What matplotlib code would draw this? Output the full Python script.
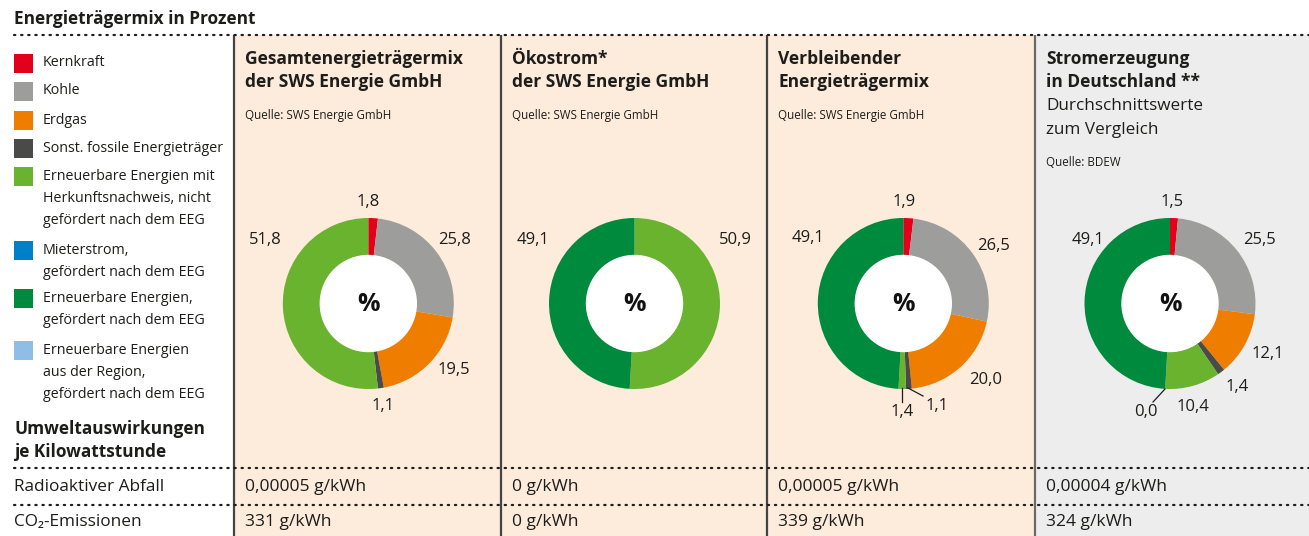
import matplotlib
matplotlib.use("Agg")
import matplotlib.pyplot as plt
from matplotlib.patches import Rectangle

# ---------------- data ----------------
categories = [
    "Kernkraft",
    "Kohle",
    "Erdgas",
    "Sonst. fossile Energieträger",
    "Erneuerbare Energien mit\nHerkunftsnachweis, nicht\ngefördert nach dem EEG",
    "Mieterstrom,\ngefördert nach dem EEG",
    "Erneuerbare Energien,\ngefördert nach dem EEG",
    "Erneuerbare Energien\naus der Region,\ngefördert nach dem EEG",
]
colors = ["#E2001A", "#9D9D9C", "#EF7D00", "#4A4A49",
          "#69B32E", "#0080C9", "#008A3E", "#8EBEE6"]

panel_titles = [
    "Gesamtenergieträgermix\nder SWS Energie GmbH",
    "Ökostrom*\nder SWS Energie GmbH",
    "Verbleibender\nEnergieträgermix",
    "Stromerzeugung\nin Deutschland **",
]
panel_subtitles = ["", "", "", "Durchschnittswerte\nzum Vergleich"]
panel_sources = ["Quelle: SWS Energie GmbH", "Quelle: SWS Energie GmbH",
                 "Quelle: SWS Energie GmbH", "Quelle: BDEW"]

# shares per category (None = not part of this mix)
gesamt      = [1.8, 25.8, 19.5, 1.1, 51.8, None, None, None]
oekostrom   = [None, None, None, None, 50.9, None, 49.1, None]
verbleibend = [1.9, 26.5, 20.0, 1.1, 1.4, None, 49.1, None]
deutschland = [1.5, 25.5, 12.1, 1.4, 10.4, 0.0, 49.1, None]
series = [gesamt, oekostrom, verbleibend, deutschland]

radioaktiv = ["0,00005 g/kWh", "0 g/kWh", "0,00005 g/kWh", "0,00004 g/kWh"]
co2 = ["331 g/kWh", "0 g/kWh", "339 g/kWh", "324 g/kWh"]

# ---------------- layout ----------------
W, H = 1309, 536
FONT = ["Open Sans", "DejaVu Sans"]
TXT = "#1d1d1b"
plt.rcParams["font.family"] = FONT

fig = plt.figure(figsize=(W / 100, H / 100), dpi=100)
ax = fig.add_axes([0, 0, 1, 1])
ax.set_xlim(0, W)
ax.set_ylim(0, H)
ax.set_aspect("equal")
ax.axis("off")


def Y(py):
    return H - py


panel_x = [234, 501, 767, 1035, W]
panel_bg = ["#FDEBDC", "#FDEBDC", "#FDEBDC", "#EDEDED"]
centers_x = [368.3, 634.5, 903.3, 1170]
center_y = 303.5
R_OUT, R_IN = 85.5, 48

for i in range(4):
    ax.add_patch(Rectangle((panel_x[i], 0), panel_x[i + 1] - panel_x[i], Y(35),
                           facecolor=panel_bg[i], edgecolor="none", zorder=0))
for i in range(4):
    ax.plot([panel_x[i], panel_x[i]], [0, Y(35)], color="#444444" if i < 3 else "#6a6a6a",
            lw=1.6, zorder=3, solid_capstyle="butt")

# dotted rules
for yy in [35, 468, 505]:
    ax.plot([14, W], [Y(yy), Y(yy)], color=TXT, lw=1.6, ls=(0, (0.6, 2.6)),
            dash_capstyle="round", zorder=4)

# header
ax.text(14, Y(19), "Energieträgermix in Prozent", fontsize=12.4, fontweight="bold",
        color=TXT, va="center", ha="left")

# legend
legend_y = [63, 91, 120, 148, 176, 250, 298, 350]
for c, col, ly in zip(categories, colors, legend_y):
    ax.add_patch(Rectangle((14, Y(ly) - 9.5), 19, 19, facecolor=col, edgecolor="none"))
    for k, ln in enumerate(c.split("\n")):
        ax.text(43, Y(ly + 22 * k), ln, fontsize=10.3, color=TXT, va="center", ha="left")

# bottom-left labels
ax.text(14, Y(429), "Umweltauswirkungen", fontsize=12.4, fontweight="bold", color=TXT,
        va="center", ha="left")
ax.text(14, Y(452), "je Kilowattstunde", fontsize=12.4, fontweight="bold", color=TXT,
        va="center", ha="left")
ax.text(14, Y(487), "Radioaktiver Abfall", fontsize=12.4, color=TXT, va="center", ha="left")
ax.text(14, Y(522), "CO₂-Emissionen", fontsize=12.4, color=TXT, va="center", ha="left")

# panel headers and bottom values
for i in range(4):
    x0 = panel_x[i] + 11
    t1, t2 = panel_titles[i].split("\n")
    ax.text(x0, Y(59), t1, fontsize=12.5, fontweight="bold", color=TXT, va="center", ha="left")
    ax.text(x0, Y(82), t2, fontsize=12.5, fontweight="bold", color=TXT, va="center", ha="left")
    if panel_subtitles[i]:
        s1, s2 = panel_subtitles[i].split("\n")
        ax.text(x0, Y(106), s1, fontsize=12.3, color=TXT, va="center", ha="left")
        ax.text(x0, Y(130), s2, fontsize=12.3, color=TXT, va="center", ha="left")
        ax.text(x0, Y(162), panel_sources[i], fontsize=8.4, color=TXT, va="center", ha="left")
    else:
        ax.text(x0, Y(115), panel_sources[i], fontsize=8.4, color=TXT, va="center", ha="left")
    ax.text(x0, Y(487), radioaktiv[i], fontsize=12.6, color=TXT, va="center", ha="left")
    ax.text(x0, Y(522), co2[i], fontsize=12.6, color=TXT, va="center", ha="left")

# donuts
for i, vals in enumerate(series):
    v = [x if x is not None else 0 for x in vals]
    ax.pie(v, colors=colors, startangle=90, counterclock=False,
           center=(centers_x[i], Y(center_y)), radius=R_OUT,
           wedgeprops=dict(width=R_OUT - R_IN, edgecolor="none", linewidth=0),
           normalize=True)
    ax.add_patch(plt.Circle((centers_x[i], Y(center_y)), R_IN, color="white", zorder=2))
    ax.text(centers_x[i], Y(center_y + 1), "%", fontsize=18, fontweight="bold", color="#111111",
            va="center", ha="center", zorder=5)

ax.set_xlim(0, W)
ax.set_ylim(0, H)

# value labels (layout positions in px, label text from data)
fmt = lambda x: f"{x:.1f}".replace(".", ",")
label_pos = [
    {0: (368, 202), 1: (455, 240), 2: (454, 370), 3: (383, 406), 4: (265, 240)},
    {4: (735, 240), 6: (533, 240)},
    {0: (904, 202), 1: (994, 246), 2: (986, 380), 3: (937, 406), 4: (902, 412), 6: (808, 238)},
    {0: (1172, 202), 1: (1260, 240), 2: (1268, 354), 3: (1237, 387), 4: (1193, 407),
     5: (1146, 412), 6: (1088, 240)},
]
for i, vals in enumerate(series):
    for k, (px, py) in label_pos[i].items():
        ax.text(px, Y(py), fmt(vals[k]), fontsize=12, color=TXT, va="center", ha="center",
                zorder=6)

# leader lines for small slices
leaders = [
    ((902, 388), (902, 402)),
    ((908, 388), (923, 396)),
    ((1165, 389), (1153, 402)),
]
for (xa, ya), (xb, yb) in leaders:
    ax.plot([xa, xb], [Y(ya), Y(yb)], color=TXT, lw=0.9, zorder=6)

fig.savefig("out.png", dpi=100)
